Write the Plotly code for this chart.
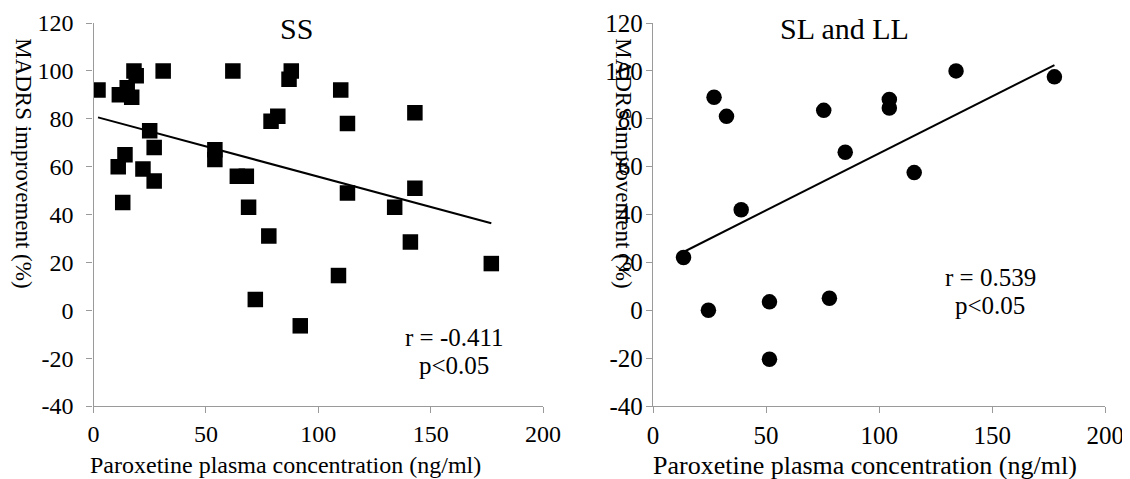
import numpy as np
import plotly.graph_objects as go

# SS genotype group
ss_conc = [2, 11.5, 15, 17, 18, 19, 31, 11, 14, 13, 25, 22, 27, 27, 54, 54, 62, 64, 68, 69,
           78, 79, 82, 88, 87, 110, 113, 143, 113, 143, 134, 141, 72, 109, 92, 177]
ss_improve = [92, 90, 93, 89, 100, 98, 100, 60, 65, 45, 75, 59, 68, 54, 67, 63, 100, 56, 56, 43,
              31, 79, 81, 100, 96.5, 92, 78, 82.5, 49, 51, 43, 28.5, 4.5, 14.5, -6.5, 19.5]

# SL and LL genotype group
sl_conc = [13.5, 24.5, 27, 32.5, 39, 51.5, 51.5, 75.5, 78, 85, 104.5, 104.5, 115.5, 134, 177.5]
sl_improve = [22, 0, 89, 81, 42, 3.5, -20.5, 83.5, 5, 66, 88, 84.5, 57.5, 100, 97.5]

titles = ["SS", "SL and LL"]
stats = [["r = -0.411", "p<0.05"], ["r = 0.539", "p<0.05"]]
x_ticks = [0, 50, 100, 150, 200]
y_ticks = [-40, -20, 0, 20, 40, 60, 80, 100, 120]
y_ticktext = ["-40", "-20", "0", "20", "40", "60", "80", "100", "120"]
x_title = "Paroxetine plasma concentration (ng/ml)"
y_title = "MADRS improvement (%)"

FONT = "Liberation Serif"
W, H = 1122, 471  # page body adds an 8px margin

fig = go.Figure()

def add_group(xs, ys, symbol, xa, ya):
    fig.add_trace(go.Scatter(x=xs, y=ys, mode="markers", xaxis=xa, yaxis=ya,
                             marker=dict(symbol=symbol, size=15.5, color="black",
                                         line=dict(width=0)),
                             showlegend=False, hoverinfo="x+y"))
    xs_a = np.array(xs, dtype=float)
    ys_a = np.array(ys, dtype=float)
    m, b = np.polyfit(xs_a, ys_a, 1)
    lx = np.array([xs_a.min(), xs_a.max()])
    fig.add_trace(go.Scatter(x=lx, y=m * lx + b, mode="lines", xaxis=xa, yaxis=ya,
                             line=dict(color="black", width=2),
                             showlegend=False, hoverinfo="skip"))

add_group(ss_conc, ss_improve, "square", "x", "y")
add_group(sl_conc, sl_improve, "circle", "x2", "y2")

axis_common = dict(showline=True, linecolor="#9a9a9a", linewidth=1.3, ticks="outside",
                   tickcolor="#9a9a9a", ticklen=6, tickwidth=1.3, showgrid=False,
                   zeroline=False, automargin=False)

def tf(size):
    return dict(family=FONT, size=size, color="black")

fig.update_layout(
    width=W, height=H,
    margin=dict(l=0, r=0, t=15, b=73, autoexpand=False),
    plot_bgcolor="white", paper_bgcolor="white",
    xaxis=dict(domain=[85.5 / W, 535 / W], range=[0, 200], tickvals=x_ticks,
               anchor="y", ticklabelstandoff=0, tickfont=tf(24), **axis_common),
    yaxis=dict(domain=[0, 1], range=[-40, 120], tickvals=y_ticks, ticktext=y_ticktext,
               anchor="x", ticklabelstandoff=8, tickfont=tf(24), **axis_common),
    xaxis2=dict(domain=[645 / W, 1097.3 / W], range=[0, 200], tickvals=x_ticks,
                anchor="y2", ticklabelstandoff=1, tickfont=tf(25), **axis_common),
    yaxis2=dict(domain=[0, 1], range=[-40, 120], tickvals=y_ticks, ticktext=y_ticktext,
                anchor="x2", ticklabelstandoff=-2, tickfont=tf(25), **axis_common),
)

# x-axis titles (positioned as in the source figure)
for px, py, size in ((277, 457, 24), (857, 457, 26)):
    fig.add_annotation(text=x_title, x=px / W, y=(398 - py) / 383, xref="paper", yref="paper",
                       xanchor="center", yanchor="middle", showarrow=False, font=tf(size))

# subplot titles
for t, px in zip(titles, (288.5, 836)):
    fig.add_annotation(text=t, x=px / W, y=1.0, xref="paper", yref="paper",
                       xanchor="center", yanchor="middle", yshift=-5, showarrow=False,
                       font=tf(30))

# y-axis titles
for px in (16, 616):
    fig.add_annotation(text=y_title, x=px / W, y=0.634, xref="paper", yref="paper",
                       xanchor="center", yanchor="middle", textangle=90, showarrow=False,
                       font=tf(23))

# statistics
stat_pos = [[(160.4, -11.3), (160.4, -23.2)], [(149.2, 13.7), (149.2, 1.8)]]
for i, (xa, ya) in enumerate([("x", "y"), ("x2", "y2")]):
    for txt, (sx, sy) in zip(stats[i], stat_pos[i]):
        fig.add_annotation(text=txt, x=sx, y=sy, xref=xa, yref=ya, showarrow=False,
                           xanchor="center", yanchor="middle", font=tf(25))

fig.write_html("out.html")
